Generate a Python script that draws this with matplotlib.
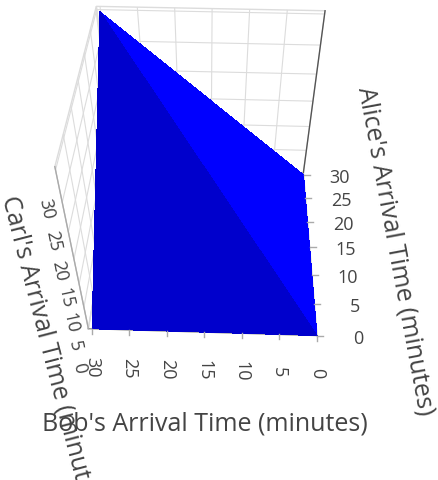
import numpy as np
import matplotlib
matplotlib.use("Agg")
import matplotlib.pyplot as plt
from matplotlib.lines import Line2D
from matplotlib.transforms import IdentityTransform
from mpl_toolkits.mplot3d import proj3d

plt.rcParams['font.family'] = ['Open Sans', 'DejaVu Sans']
plt.rcParams['grid.color'] = '#dcdcdc'
plt.rcParams['grid.linewidth'] = 0.8

# corners of the arrival-time square, Carl = min(Bob, Alice)
bob = np.array([0, 30, 0, 30])
alice = np.array([0, 0, 30, 30])
carl = np.minimum(bob, alice)
triangles = [[0, 1, 3], [0, 2, 3]]
face_colors = ['#0000cc', '#0000ff']

ticks = [0, 5, 10, 15, 20, 25, 30]
tick_labels = ['0', '5', '10', '15', '20', '25', '30']
lo, hi = 0, 30.5
txt = '#444444'

fig = plt.figure(figsize=(4.38, 4.81), dpi=100)
ax = fig.add_axes([-0.041, 0.233, 1.0, 0.8], projection='3d')

# x = Alice, y = Bob, z = Carl
surf = ax.plot_trisurf(alice, bob, carl, triangles=triangles, shade=False,
                       linewidth=0, antialiased=False)
surf.set_facecolor(face_colors)

# zero lines on the walls
ax.plot([hi, hi], [lo, lo], [lo, hi], color='#555555', lw=1)
ax.plot([lo, lo], [lo, hi], [lo, lo], color='#999999', lw=1)
ax.plot([lo, lo], [hi, hi], [lo, hi], color='#aaaaaa', lw=1)

ax.set_xlim(lo, hi)
ax.set_ylim(lo, hi)
ax.set_zlim(lo, hi)
ax.set_box_aspect((1, 1, 1), zoom=1.0)
ax.set_proj_type('persp', focal_length=0.35)
ax.view_init(elev=45, azim=182, roll=0)

for a in (ax.xaxis, ax.yaxis, ax.zaxis):
    a.set_ticks(ticks)
    a.set_ticklabels([])
    a.set_pane_color((1, 1, 1, 1))
    a.pane.set_edgecolor('#dcdcdc')
    a.line.set_color('#dcdcdc')
    a.set_tick_params(color=(1, 1, 1, 0))

fig.canvas.draw()
M = ax.get_proj()


def to_px(x, y, z):
    xs, ys, _ = proj3d.proj_transform(x, y, z, M)
    return ax.transData.transform((xs, ys))


tf = IdentityTransform()
tick_col = '#aaaaaa'
# Bob ticks along the front bottom edge
for t, s in zip(ticks, tick_labels):
    px, py = to_px(lo, t, lo)
    fig.add_artist(Line2D([px, px], [py, py - 5], color=tick_col, lw=1,
                          transform=tf))
    fig.text(px, py - 37, s, transform=tf, rotation=-90, ha='center',
             va='center', color=txt, fontsize=13)
# Alice ticks along the right edge
for t, s in zip(ticks, tick_labels):
    px, py = to_px(t, lo, lo)
    fig.add_artist(Line2D([px, px + 6], [py, py], color=tick_col, lw=1,
                          transform=tf))
    fig.text(px + 46, py - 2, s, transform=tf, ha='right', va='center',
             color=txt, fontsize=13)
# Carl ticks along the left edge
for t, s in zip(ticks, tick_labels):
    px, py = to_px(lo, hi, t)
    fig.text(px - 9, py - 38, s, transform=tf, rotation=-78, ha='center',
             va='center', color=txt, fontsize=13)

fig.text(205 / 438, 1 - 424 / 481, "Bob's Arrival Time (minutes)",
         ha='center', va='center', color=txt, fontsize=18)
fig.text(395 / 438, 1 - 251 / 481, "Alice's Arrival Time (minutes)",
         ha='center', va='center', color=txt, fontsize=18, rotation=-79.5)
fig.text(9 / 438, 1 - 196 / 481, "Carl's Arrival Time (minutes)",
         ha='left', va='center', rotation_mode='anchor', color=txt,
         fontsize=18, rotation=-75.5)

fig.savefig('out.png', dpi=100, facecolor='white')
